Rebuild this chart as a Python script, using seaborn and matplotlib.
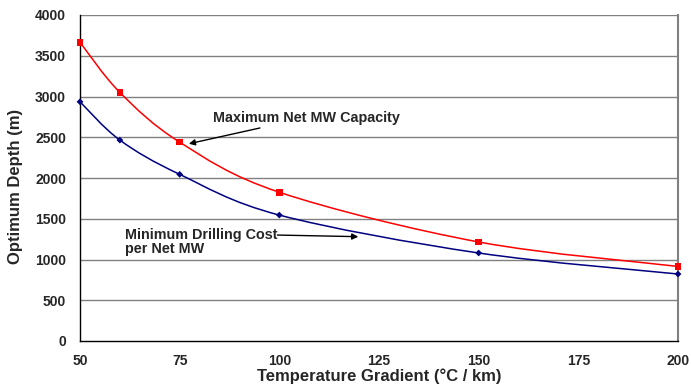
import matplotlib
matplotlib.use("Agg")
import matplotlib.pyplot as plt
import seaborn as sns
import numpy as np
import pandas as pd
from matplotlib.path import Path
from matplotlib.patches import PathPatch

gradient = [50, 60, 75, 100, 150, 200]
max_mw_depth = [3665, 3050, 2440, 1825, 1215, 915]
min_cost_depth = [2935, 2465, 2045, 1545, 1080, 822]
x_ticks = [50, 75, 100, 125, 150, 175, 200]
y_ticks = [0, 500, 1000, 1500, 2000, 2500, 3000, 3500, 4000]

sns.set_theme(style="white")
plt.rcParams['font.family'] = ['Liberation Sans', 'DejaVu Sans']

fig = plt.figure(figsize=(6.91, 3.90), dpi=100)
ax = fig.add_axes([80/691, 1-341/390, 598/691, 326/390])

def smooth_path(xs, ys):
    xs = np.asarray(xs, float); ys = np.asarray(ys, float)
    verts = [(xs[0], ys[0])]
    codes = [Path.MOVETO]
    n = len(xs)
    for i in range(n - 1):
        p0 = np.array([xs[max(i-1, 0)], ys[max(i-1, 0)]])
        p1 = np.array([xs[i], ys[i]])
        p2 = np.array([xs[i+1], ys[i+1]])
        p3 = np.array([xs[min(i+2, n-1)], ys[min(i+2, n-1)]])
        c1 = p1 + (p2 - p0) / 6.0
        c2 = p2 - (p3 - p1) / 6.0
        verts += [tuple(c1), tuple(c2), tuple(p2)]
        codes += [Path.CURVE4] * 3
    return Path(verts, codes)

ax.add_patch(PathPatch(smooth_path(gradient, max_mw_depth), fill=False, edgecolor='#ff0000', lw=1.1, zorder=3))
ax.add_patch(PathPatch(smooth_path(gradient, min_cost_depth), fill=False, edgecolor='#000080', lw=1.1, zorder=3))

df = pd.DataFrame({'x': gradient, 'max': max_mw_depth, 'min': min_cost_depth})
sns.scatterplot(data=df, x='x', y='max', marker='s', s=22, color='#ff0000', edgecolor='none', ax=ax, zorder=4, clip_on=False)
sns.scatterplot(data=df, x='x', y='min', marker='D', s=12, color='#000080', edgecolor='none', ax=ax, zorder=4, clip_on=False)

ax.set_xlim(50, 200)
ax.set_ylim(0, 4000)
ax.set_xticks(x_ticks)
ax.set_yticks(y_ticks)
for y in y_ticks[1:]:
    ax.axhline(y, color='#808080', lw=1.0, zorder=1)

for s in ['left', 'bottom']:
    ax.spines[s].set_color('black'); ax.spines[s].set_linewidth(1.0)
ax.spines['right'].set_color('#808080'); ax.spines['right'].set_linewidth(1.5)
ax.spines['top'].set_visible(False)
ax.tick_params(axis='both', direction='out', length=3, width=1, color='black', labelsize=10)
ax.tick_params(axis='x', pad=6.5)
ax.tick_params(axis='y', pad=7)
for lab in ax.get_xticklabels() + ax.get_yticklabels():
    lab.set_fontweight('bold')

ax.set_xlabel('Temperature Gradient (°C / km)', fontsize=12, fontweight='bold', labelpad=0.5)
ax.set_ylabel('Optimum Depth (m)', fontsize=12, fontweight='bold')
ax.yaxis.set_label_coords(-57/598, 155/326)

ax.annotate('Maximum Net MW Capacity', xy=(77.3, 2420), xytext=(83.3, 2740),
            fontsize=10.4, fontweight='bold', va='center', ha='left',
            arrowprops=dict(arrowstyle='-|>', color='black', lw=1, mutation_scale=9, shrinkA=0, shrinkB=0))
ax.text(61.3, 1215, 'Minimum Drilling Cost\nper Net MW', fontsize=10.4, fontweight='bold',
        va='center', ha='left', linespacing=1.05)
ax.annotate('', xy=(119.8, 1280), xytext=(99.5, 1300),
            arrowprops=dict(arrowstyle='-|>', color='black', lw=1, mutation_scale=9, shrinkA=0, shrinkB=0))

fig.savefig('out.png', dpi=100)
